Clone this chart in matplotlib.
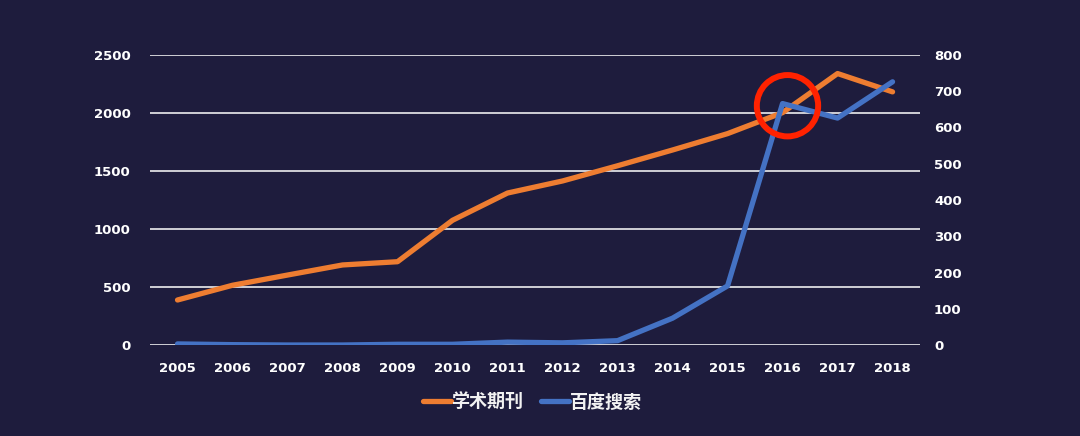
import numpy as np
import matplotlib.pyplot as plt

plt.rcParams['font.family'] = ['Noto Sans CJK SC', 'DejaVu Sans']

years = ['2005', '2006', '2007', '2008', '2009', '2010', '2011',
         '2012', '2013', '2014', '2015', '2016', '2017', '2018']
journals = [388, 515, 603, 690, 718, 1075, 1310, 1414, 1545, 1681, 1822, 2003, 2340, 2182]
baidu = [3, 1, 0, 0, 2, 2, 8, 6, 12, 74, 163, 666, 626, 726]

bg = '#1e1c3d'
fig = plt.figure(figsize=(10.8, 4.36), dpi=100)
fig.patch.set_facecolor(bg)
ax = fig.add_axes([0.1389, 0.2087, 0.7130, 0.6652])
ax.set_facecolor(bg)
x = np.arange(len(years))

ax.set_ylim(0, 2500)
ax.set_yticks([0, 500, 1000, 1500, 2000, 2500])
ax.set_xlim(-0.5, len(years) - 0.5)
ax.grid(axis='y', color='#cfcfd6', lw=1.4)
ax.set_axisbelow(True)
l1, = ax.plot(x, journals, color='#ee7d31', lw=3.8, solid_capstyle='round',
              solid_joinstyle='round', label='学术期刊', zorder=3)
ax.set_xticks(x)
ax.set_xticklabels(years)

ax2 = ax.twinx()
ax2.set_ylim(0, 800)
ax2.set_yticks(range(0, 900, 100))
l2, = ax2.plot(x, baidu, color='#4472c4', lw=3.8, solid_capstyle='round',
               solid_joinstyle='round', label='百度搜索', zorder=3)

# red highlight circle around 2016
ax2.scatter([11.09], [660], s=1950, facecolors='none', edgecolors='#ff2200',
            linewidths=4.3, zorder=5)

for a in (ax, ax2):
    for s in a.spines.values():
        s.set_visible(False)
    a.tick_params(length=0, colors='white', labelsize=9.5)
    for lab in a.get_xticklabels() + a.get_yticklabels():
        lab.set_fontweight('bold')
        lab.set_family(['DejaVu Sans'])
ax.tick_params(axis='y', pad=14)
ax2.tick_params(axis='y', pad=10)
ax.tick_params(axis='x', pad=12)

leg = fig.legend(handles=[l1, l2], loc='center', bbox_to_anchor=(0.493, 0.078),
                 ncol=2, frameon=False, prop={'size': 13, 'weight': 'bold'},
                 handlelength=1.5, handletextpad=0.05, columnspacing=1.0)
for t in leg.get_texts():
    t.set_color('#f2f2f2')

fig.savefig('out.png', dpi=100, facecolor=bg)
